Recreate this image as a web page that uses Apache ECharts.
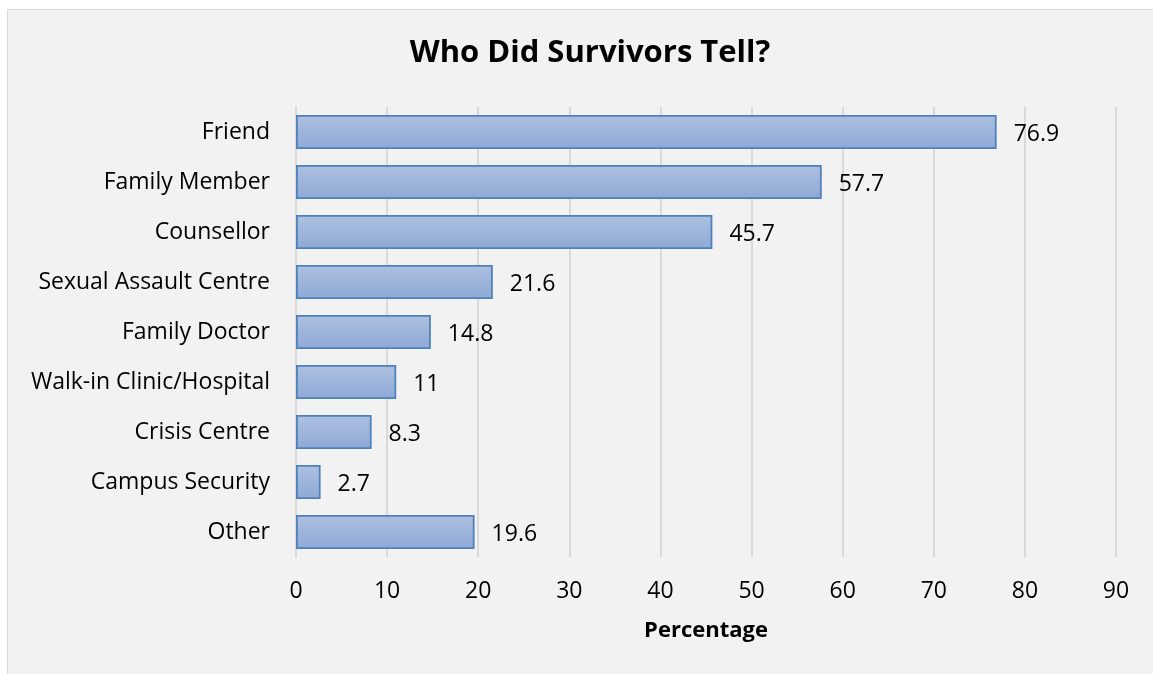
<!DOCTYPE html>
<html>
<head>
<meta charset="utf-8">
<script src="https://cdn.jsdelivr.net/npm/echarts@6/dist/echarts.min.js"></script>
<style>
  html, body { margin: 0; padding: 0; background: #ffffff; }
  #frame { position: absolute; left: 7px; top: 9px; width: 1200px; height: 700px;
           background: #f2f2f2; border: 1px solid #d9d9d9; }
  #chart { position: absolute; left: 0; top: 0; width: 1153px; height: 674px; }
</style>
</head>
<body>
<div id="frame"></div>
<div id="chart"></div>
<script>
// Who survivors told, percentage of respondents
const categories = [
  'Friend', 'Family Member', 'Counsellor', 'Sexual Assault Centre',
  'Family Doctor', 'Walk-in Clinic/Hospital', 'Crisis Centre',
  'Campus Security', 'Other'
];
const percentages = [76.9, 57.7, 45.7, 21.6, 14.8, 11, 8.3, 2.7, 19.6];
const xTicks = { min: 0, max: 90, step: 10 };

const FONT = '"Open Sans", "Noto Sans", sans-serif';

const chart = echarts.init(document.getElementById('chart'), null, { renderer: 'canvas' });
chart.setOption({
  backgroundColor: 'transparent',
  animation: false,
  title: {
    text: 'Who Did Survivors Tell?',
    left: 585,
    top: 33,
    textAlign: 'center',
    textStyle: { fontFamily: FONT, fontSize: 31, fontWeight: 'bold', color: '#000' }
  },
  grid: { left: 296, right: 37, top: 107, bottom: 117, containLabel: false },
  xAxis: {
    type: 'value',
    min: xTicks.min,
    max: xTicks.max,
    interval: xTicks.step,
    name: 'Percentage',
    nameLocation: 'middle',
    nameGap: 63,
    nameTextStyle: { fontFamily: FONT, fontSize: 22, fontWeight: 'bold', color: '#000' },
    axisLine: { show: false },
    axisTick: { show: false },
    axisLabel: { margin: 23, fontFamily: FONT, fontSize: 23, color: '#000' },
    splitLine: { show: true, lineStyle: { color: '#d9d9d9', width: 2 } }
  },
  yAxis: {
    type: 'category',
    data: categories,
    inverse: true,
    axisLine: { show: true, lineStyle: { color: '#d9d9d9', width: 2 } },
    axisTick: { show: false },
    axisLabel: { margin: 26, fontFamily: FONT, fontSize: 23, color: '#000' }
  },
  series: [{
    type: 'bar',
    data: percentages,
    barWidth: '68%',
    itemStyle: {
      color: new echarts.graphic.LinearGradient(0, 0, 0, 1, [
        { offset: 0, color: '#adc0e0' },
        { offset: 1, color: '#8ea9d6' }
      ]),
      borderColor: '#4f81bd',
      borderWidth: 1.8
    },
    label: {
      show: true,
      position: 'right',
      distance: 17,
      offset: [0, 2],
      fontFamily: FONT,
      fontSize: 23,
      color: '#000'
    }
  }]
});
</script>
</body>
</html>
